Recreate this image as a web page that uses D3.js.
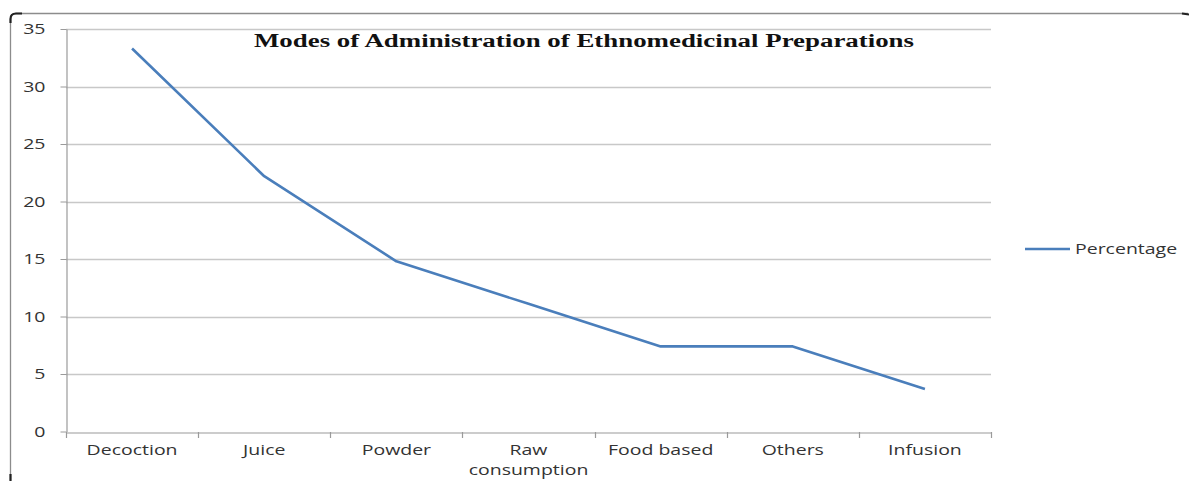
<!DOCTYPE html>
<html>
<head>
<meta charset="utf-8">
<script src="https://cdn.jsdelivr.net/npm/d3@7"></script>
<style>
  html, body { margin: 0; padding: 0; background: #fff; }
  svg { display: block; }
</style>
</head>
<body>
<div id="chart"></div>
<script>
// Modes of administration and their share (%) of preparations
const categories = ["Decoction", "Juice", "Powder", "Raw consumption", "Food based", "Others", "Infusion"];
const percentages = [33.3, 22.2, 14.8, 11.1, 7.4, 7.4, 3.7];
const yTicks = [0, 5, 10, 15, 20, 25, 30, 35];
const seriesName = "Percentage";
const chartTitle = "Modes of Administration of Ethnomedicinal Preparations";

const W = 1189, H = 481;
const plot = { left: 66, right: 991, top: 29, bottom: 431.5 };
const SANS = "'Open Sans', 'DejaVu Sans', sans-serif";
const STRETCH = 1.3;   // wide label glyphs
const LABEL_COLOR = "#333";

const svg = d3.select("#chart").append("svg")
  .attr("width", W).attr("height", H);

// chart frame: top and left edges with darker corners
const frame = svg.append("g");
frame.append("path")
  .attr("d", "M10.5,480 L10.5,19 Q10.5,13.5 16,13.5 L1188,13.5")
  .attr("fill", "none").attr("stroke", "#8c8c8c").attr("stroke-width", 1.3);
frame.append("path")
  .attr("d", "M10.5,23 L10.5,19 Q10.5,13.5 16,13.5 L22,13.5")
  .attr("fill", "none").attr("stroke", "#222").attr("stroke-width", 2.2);
frame.append("path")
  .attr("d", "M1182,13.5 L1189,14.5")
  .attr("fill", "none").attr("stroke", "#222").attr("stroke-width", 2.2);
frame.append("path")
  .attr("d", "M10.5,474 L10.5,481")
  .attr("fill", "none").attr("stroke", "#222").attr("stroke-width", 2.2);

const x = d3.scaleBand().domain(categories).range([plot.left, plot.right]).padding(0);
const y = d3.scaleLinear().domain([0, 35]).range([plot.bottom, plot.top]);

// horizontal gridlines
svg.append("g")
  .selectAll("line")
  .data(yTicks.filter(d => d > 0))
  .join("line")
  .attr("x1", plot.left).attr("x2", plot.right)
  .attr("y1", d => Math.round(y(d)) + 0.5).attr("y2", d => Math.round(y(d)) + 0.5)
  .attr("stroke", "#c8c8c8").attr("stroke-width", 1.3);

// y axis
const yAxis = svg.append("g")
  .attr("transform", `translate(${plot.left + 0.5},0)`)
  .call(d3.axisLeft(y).tickValues(yTicks).tickSize(6).tickPadding(21).tickSizeOuter(0));
yAxis.select(".domain").attr("stroke", "#9a9a9a").attr("stroke-width", 1.2);
yAxis.selectAll(".tick line").attr("stroke", "#9a9a9a");
yAxis.selectAll(".tick text")
  .attr("font-family", SANS)
  .attr("font-size", 15).attr("fill", LABEL_COLOR)
  .attr("x", 0)
  .attr("transform", `translate(-21,0) scale(${STRETCH},1)`);

// x axis
const xAxis = svg.append("g")
  .attr("transform", `translate(0,${Math.round(plot.bottom) + 0.5})`)
  .call(d3.axisBottom(x).tickSize(0).tickSizeOuter(0).tickPadding(12));
xAxis.select(".domain").attr("stroke", "#9a9a9a").attr("stroke-width", 1.2);
xAxis.selectAll(".tick text")
  .attr("font-family", SANS)
  .attr("font-size", 15).attr("fill", LABEL_COLOR)
  .attr("transform", `scale(${STRETCH},1)`)
  .each(function(d) {
    if (d === "Raw consumption") {
      const t = d3.select(this).text(null);
      d.split(" ").forEach((w, i) => {
        t.append("tspan").attr("x", 0).attr("dy", i === 0 ? "0.71em" : "1.3em").text(w);
      });
    }
  });
// boundary tick marks between categories
const bounds = categories.map(c => x(c)).concat([plot.right]);
svg.append("g")
  .selectAll("line")
  .data(bounds)
  .join("line")
  .attr("x1", d => Math.round(d) + 0.5).attr("x2", d => Math.round(d) + 0.5)
  .attr("y1", Math.round(plot.bottom)).attr("y2", Math.round(plot.bottom) + 6)
  .attr("stroke", "#9a9a9a").attr("stroke-width", 1.2);

// series line
const line = d3.line()
  .x((d, i) => x(categories[i]) + x.bandwidth() / 2)
  .y(d => y(d));
svg.append("path")
  .datum(percentages)
  .attr("d", line)
  .attr("fill", "none")
  .attr("stroke", "#4a7ebb")
  .attr("stroke-width", 2.6)
  .attr("stroke-linejoin", "round");

// title
svg.append("text")
  .attr("x", 254).attr("y", 47)
  .attr("font-family", "'Liberation Serif', 'Times New Roman', serif")
  .attr("font-weight", "bold")
  .attr("font-size", 18.5)
  .attr("fill", "#111")
  .attr("textLength", 660)
  .attr("lengthAdjust", "spacingAndGlyphs")
  .text(chartTitle);

// legend
const lg = svg.append("g").attr("transform", "translate(1025,249)");
lg.append("line").attr("x1", 0).attr("x2", 45).attr("y1", 0).attr("y2", 0)
  .attr("stroke", "#4a7ebb").attr("stroke-width", 2.6);
lg.append("text").attr("x", 0).attr("y", 0).attr("dy", "0.35em")
  .attr("transform", `translate(50,0) scale(${STRETCH},1)`)
  .attr("font-family", SANS)
  .attr("font-size", 15).attr("fill", LABEL_COLOR)
  .text(seriesName);
</script>
</body>
</html>
